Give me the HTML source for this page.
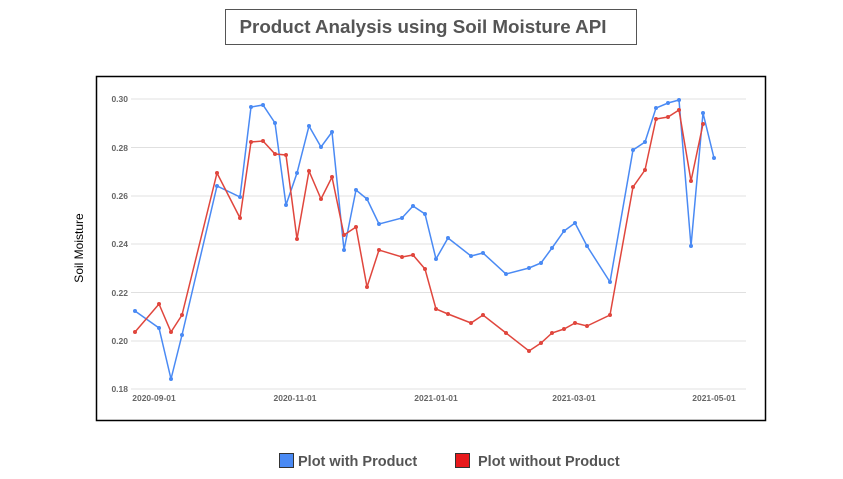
<!DOCTYPE html>
<html><head><meta charset="utf-8"><style>
body{margin:0;background:#fff;width:843px;height:474px;overflow:hidden;font-family:"Liberation Sans",sans-serif}
</style></head><body>
<svg width="843" height="474" xmlns="http://www.w3.org/2000/svg" font-family="Liberation Sans, sans-serif">
<rect x="225.5" y="9.5" width="411" height="35" fill="#fff" stroke="#555" stroke-width="1"/>
<text x="423" y="33" text-anchor="middle" font-size="18.8" font-weight="bold" fill="#555">Product Analysis using Soil Moisture API</text>
<rect x="96.5" y="76.5" width="669" height="344" fill="#fff" stroke="#000" stroke-width="1.5"/>
<g stroke="#e0e0e0" stroke-width="1">
<line x1="131" x2="746" y1="99" y2="99"/><line x1="131" x2="746" y1="147.5" y2="147.5"/>
<line x1="131" x2="746" y1="196" y2="196"/><line x1="131" x2="746" y1="244" y2="244"/>
<line x1="131" x2="746" y1="292.5" y2="292.5"/><line x1="131" x2="746" y1="341" y2="341"/>
<line x1="131" x2="746" y1="389" y2="389"/></g>
<g font-size="8.5" fill="#666" font-weight="bold" text-anchor="end">
<text x="128" y="102">0.30</text><text x="128" y="151">0.28</text><text x="128" y="199">0.26</text>
<text x="128" y="247">0.24</text><text x="128" y="296">0.22</text><text x="128" y="344">0.20</text><text x="128" y="392">0.18</text></g>
<g font-size="8.5" fill="#666" font-weight="bold" text-anchor="middle">
<text x="154" y="401">2020-09-01</text><text x="295" y="401">2020-11-01</text><text x="436" y="401">2021-01-01</text><text x="574" y="401">2021-03-01</text><text x="714" y="401">2021-05-01</text></g>
<text x="83" y="248" font-size="12" fill="#000" transform="rotate(-90 83 248)" text-anchor="middle">Soil Moisture</text>
<polyline fill="none" stroke="#4a8af4" stroke-width="1.5" points="135,311 159,328 171,379 182,335 217,186 240,197 251,107 263,105 275,123 286,205 297,173 309,126 321,147 332,132 344,250 356,190 367,199 379,224 402,218 413,206 425,214 436,259 448,238 471,256 483,253 506,274 529,268 541,263 552,248 564,231 575,223 587,246 610,282 633,150 645,142 656,108 668,103 679,100 691,246 703,113 714,158"/>
<polyline fill="none" stroke="#e0463d" stroke-width="1.5" points="135,332 159,304 171,332 182,315 217,173 240,218 251,142 263,141 275,154 286,155 297,239 309,171 321,199 332,177 344,235 356,227 367,287 379,250 402,257 413,255 425,269 436,309 448,314 471,323 483,315 506,333 529,351 541,343 552,333 564,329 575,323 587,326 610,315 633,187 645,170 656,119 668,117 679,110 691,181 703,124"/>
<g fill="#4a8af4"><circle cx="135" cy="311" r="2"/><circle cx="159" cy="328" r="2"/><circle cx="171" cy="379" r="2"/><circle cx="182" cy="335" r="2"/><circle cx="217" cy="186" r="2"/><circle cx="240" cy="197" r="2"/><circle cx="251" cy="107" r="2"/><circle cx="263" cy="105" r="2"/><circle cx="275" cy="123" r="2"/><circle cx="286" cy="205" r="2"/><circle cx="297" cy="173" r="2"/><circle cx="309" cy="126" r="2"/><circle cx="321" cy="147" r="2"/><circle cx="332" cy="132" r="2"/><circle cx="344" cy="250" r="2"/><circle cx="356" cy="190" r="2"/><circle cx="367" cy="199" r="2"/><circle cx="379" cy="224" r="2"/><circle cx="402" cy="218" r="2"/><circle cx="413" cy="206" r="2"/><circle cx="425" cy="214" r="2"/><circle cx="436" cy="259" r="2"/><circle cx="448" cy="238" r="2"/><circle cx="471" cy="256" r="2"/><circle cx="483" cy="253" r="2"/><circle cx="506" cy="274" r="2"/><circle cx="529" cy="268" r="2"/><circle cx="541" cy="263" r="2"/><circle cx="552" cy="248" r="2"/><circle cx="564" cy="231" r="2"/><circle cx="575" cy="223" r="2"/><circle cx="587" cy="246" r="2"/><circle cx="610" cy="282" r="2"/><circle cx="633" cy="150" r="2"/><circle cx="645" cy="142" r="2"/><circle cx="656" cy="108" r="2"/><circle cx="668" cy="103" r="2"/><circle cx="679" cy="100" r="2"/><circle cx="691" cy="246" r="2"/><circle cx="703" cy="113" r="2"/><circle cx="714" cy="158" r="2"/></g>
<g fill="#e0463d"><circle cx="135" cy="332" r="2"/><circle cx="159" cy="304" r="2"/><circle cx="171" cy="332" r="2"/><circle cx="182" cy="315" r="2"/><circle cx="217" cy="173" r="2"/><circle cx="240" cy="218" r="2"/><circle cx="251" cy="142" r="2"/><circle cx="263" cy="141" r="2"/><circle cx="275" cy="154" r="2"/><circle cx="286" cy="155" r="2"/><circle cx="297" cy="239" r="2"/><circle cx="309" cy="171" r="2"/><circle cx="321" cy="199" r="2"/><circle cx="332" cy="177" r="2"/><circle cx="344" cy="235" r="2"/><circle cx="356" cy="227" r="2"/><circle cx="367" cy="287" r="2"/><circle cx="379" cy="250" r="2"/><circle cx="402" cy="257" r="2"/><circle cx="413" cy="255" r="2"/><circle cx="425" cy="269" r="2"/><circle cx="436" cy="309" r="2"/><circle cx="448" cy="314" r="2"/><circle cx="471" cy="323" r="2"/><circle cx="483" cy="315" r="2"/><circle cx="506" cy="333" r="2"/><circle cx="529" cy="351" r="2"/><circle cx="541" cy="343" r="2"/><circle cx="552" cy="333" r="2"/><circle cx="564" cy="329" r="2"/><circle cx="575" cy="323" r="2"/><circle cx="587" cy="326" r="2"/><circle cx="610" cy="315" r="2"/><circle cx="633" cy="187" r="2"/><circle cx="645" cy="170" r="2"/><circle cx="656" cy="119" r="2"/><circle cx="668" cy="117" r="2"/><circle cx="679" cy="110" r="2"/><circle cx="691" cy="181" r="2"/><circle cx="703" cy="124" r="2"/></g>
<rect x="279.5" y="453.5" width="14" height="14" fill="#4a8af4" stroke="#333"/>
<text x="298" y="466" font-size="14.5" font-weight="bold" fill="#555">Plot with Product</text>
<rect x="455.5" y="453.5" width="14" height="14" fill="#e8191c" stroke="#333"/>
<text x="478" y="466" font-size="14.5" font-weight="bold" fill="#555">Plot without Product</text>
</svg>
</body></html>
